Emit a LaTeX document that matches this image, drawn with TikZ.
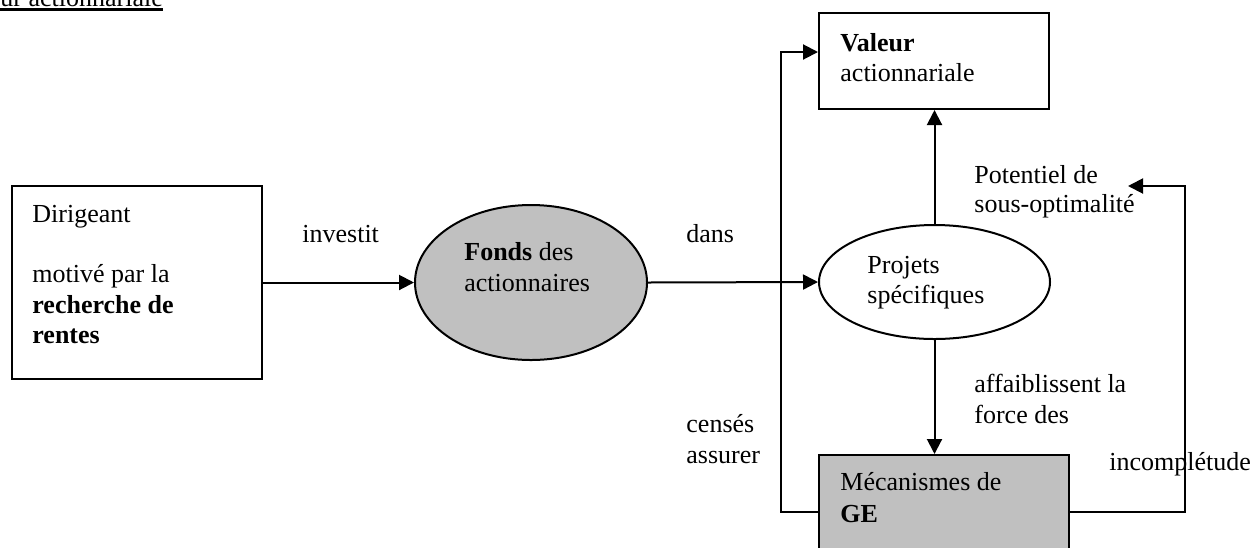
\documentclass[tikz,border=0pt]{standalone}
\usepackage{fontspec}
\setmainfont{Liberation Serif}
\usetikzlibrary{shapes.geometric,arrows.meta}
\begin{document}
\begin{tikzpicture}[x=0.5pt,y=-0.5pt,
  every node/.style={font=\fontsize{13}{15}\selectfont},
  txt/.style={anchor=base west,inner sep=0pt},
  boxrect/.style={draw,line width=1pt,rectangle,inner sep=0pt},
  ell/.style={draw,line width=1pt,ellipse,inner sep=0pt},
  arr/.style={line width=1pt,-{Triangle[length=7.5pt,width=7.5pt]}},
  ln/.style={line width=1pt}]
\clip (0,0) rectangle (1256,547);
\fill[white] (0,0) rectangle (1256,547);
% shapes
\node[boxrect,minimum width=125pt,minimum height=96.5pt] (dir) at (137,282.5) {};
\node[ell,fill={rgb,255:red,192;green,192;blue,192},minimum width=116pt,minimum height=77.5pt] (fonds) at (531,282.5) {};
\node[ell,minimum width=115.5pt,minimum height=57pt] (proj) at (934.5,282) {};
\node[boxrect,minimum width=115pt,minimum height=48pt] (val) at (934,61) {};
\node[boxrect,fill={rgb,255:red,192;green,192;blue,192},minimum width=125pt,minimum height=57pt] (meca) at (944,512) {};
\coordinate (pot) at (1128,186);
% connectors
\draw[arr] (dir.east) -- (fonds.west);
\draw[arr] (fonds.east) -- (proj.west);
\draw[arr] (proj.north) -- (proj.north |- val.south);
\draw[arr] (proj.south) -- (proj.south |- meca.north);
\draw[arr] (meca.west) -- ++(-37,0) |- ([yshift=4.5pt]val.west);
\draw[arr] (meca.east) -- ++(114.5,0) |- (pot);
% texts
\node[txt] (title) at (0,6) {ur actionnariale};
\draw[line width=1.2pt] (0,9.5) -- (163,9.5);
\node[txt] (t1) at (32,222) {Dirigeant};
\node[txt] (t2) at (32,282) {motivé par la};
\node[txt] (t3) at (32,313) {\bfseries recherche de};
\node[txt] (t4) at (32,343) {\bfseries rentes};
\node[txt] (l1) at (302,242) {investit};
\node[txt] (f1) at (464,260) {\textbf{Fonds} des};
\node[txt] (f2) at (464,291) {actionnaires};
\node[txt] (l2) at (686,242) {dans};
\node[txt] (p1) at (867,273) {Projets};
\node[txt] (p2) at (867,303) {spécifiques};
\node[txt] (v1) at (840,51) {\bfseries Valeur};
\node[txt] (v2) at (840,81) {actionnariale};
\node[txt] (o1) at (974,183) {Potentiel de};
\node[txt] (o2) at (974,212) {sous-optimalité};
\node[txt] (a1) at (974,392) {affaiblissent la};
\node[txt] (a2) at (974,423) {force des};
\node[txt] (c1) at (686,432) {censés};
\node[txt] (c2) at (686,463) {assurer};
\node[txt] (i1) at (1109,470) {incomplétude};
\node[txt] (m1) at (840,490) {Mécanismes de};
\node[txt] (m2) at (840,522) {\bfseries GE};
\end{tikzpicture}
\end{document}
